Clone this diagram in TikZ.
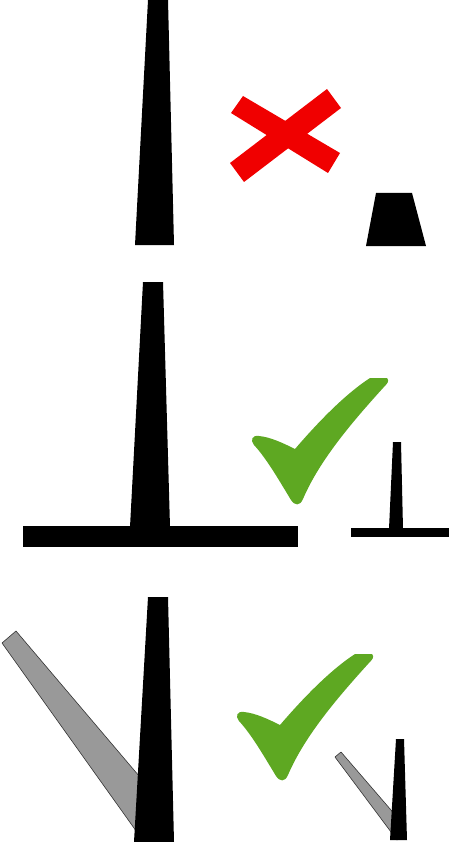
\documentclass[tikz,border=0pt]{standalone}

\definecolor{crossred}{RGB}{240,0,0}
\definecolor{tickgreen}{RGB}{94,168,34}
\definecolor{strutgray}{RGB}{153,153,153}

\tikzset{
	checkmark/.pic={
		\fill[tickgreen] (0,0) .. controls (30,-35) and (55,-58) .. (75,-71) -- (92,-71)
			.. controls (95,-68) and (92,-65) .. (88,-61)
			.. controls (60,-30) and (25,10) .. (8,50)
			.. controls (5,57) and (0,57) .. (-4,51)
			.. controls (-15,33) and (-28,10) .. (-41,-4)
			.. controls (-45,-9) and (-43,-14) .. (-36,-13)
			.. controls (-25,-12) and (-12,-6) .. (0,0) -- cycle;
	}
}

\begin{document}
\begin{tikzpicture}[x=1pt,y=-1pt,
		tower/.style={fill=black},
		strut/.style={fill=strutgray,draw=black!80,line width=0.6pt,line join=round},
		cross/.style={fill=crossred}]
		
		\useasboundingbox (0,0) rectangle (449,842);
		
		% plain chimney, not allowed
		\fill[tower] (135,245) -- (148,0) -- (168,0) -- (174,245) -- cycle;
		\fill[cross] (243,96) -- (340,153) -- (328,173) -- (231,113) -- cycle;
		\fill[cross] (230,163) -- (327,89) -- (341,108) -- (244,182) -- cycle;
		\fill[tower] (366,246) -- (376,193) -- (412,193) -- (426,246) -- cycle;
		
		% chimney on a wide foot
		\fill[tower] (130,527) -- (143,282) -- (163,282) -- (170,527) -- cycle;
		\fill[tower] (23,526) rectangle (298,547);
		\pic at (295,449) {checkmark};
		\fill[tower] (389,529) -- (393,442) -- (401,442) -- (403,529) -- cycle;
		\fill[tower] (351,528) rectangle (449,537);
		
		% chimney with a strut
		\draw[strut] (2,643) -- (16,631) -- (145,783) -- (144,842) -- cycle;
		\fill[tower] (134,842) -- (148,597) -- (168,597) -- (174,842) -- cycle;
		\pic at (280,725) {checkmark};
		\draw[strut] (335,757) -- (341,752) -- (397,817) -- (397,840) -- cycle;
		\fill[tower] (390,840) -- (396,739) -- (404,739) -- (407,840) -- cycle;
	\end{tikzpicture}
\end{document}
